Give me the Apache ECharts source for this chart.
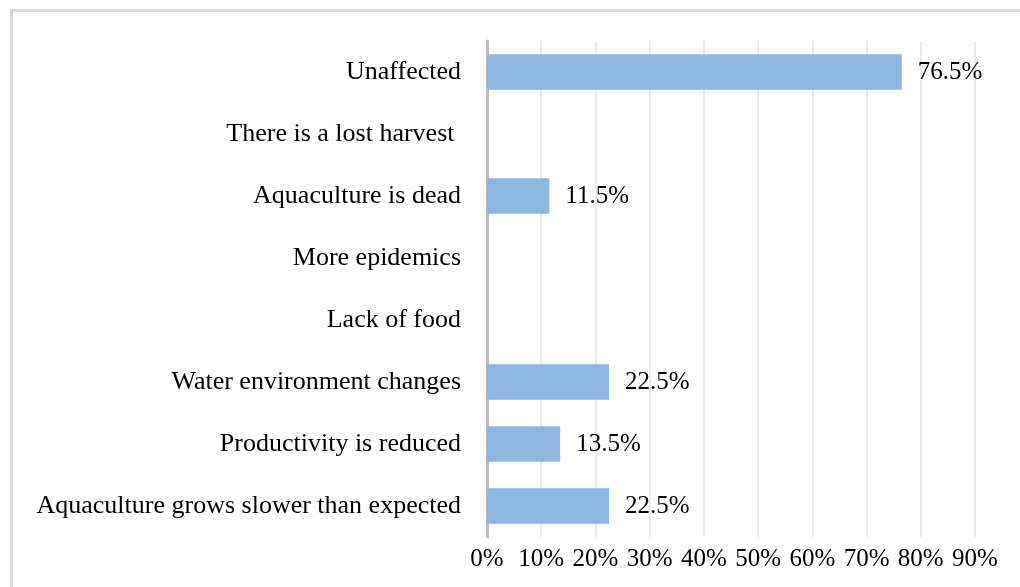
<!DOCTYPE html>
<html>
<head>
<meta charset="utf-8">
<script src="https://cdn.jsdelivr.net/npm/echarts@6/dist/echarts.min.js"></script>
<style>
  html, body { margin: 0; padding: 0; background: #fff; }
  #chart { width: 1020px; height: 587px; }
</style>
</head>
<body>
<div id="chart"></div>
<script>
// Impacts on aquaculture, share of respondents (%)
const categories = [
  'Unaffected',
  'There is a lost harvest ',
  'Aquaculture is dead',
  'More epidemics',
  'Lack of food',
  'Water environment changes',
  'Productivity is reduced',
  'Aquaculture grows slower than expected'
];
const shares = [76.5, 0, 11.5, 0, 0, 22.5, 13.5, 22.5];
const xTicks = [0, 10, 20, 30, 40, 50, 60, 70, 80, 90];

const font = '"Liberation Serif", "Times New Roman", serif';
const chart = echarts.init(document.getElementById('chart'), null, { renderer: 'canvas' });

chart.setOption({
  animation: false,
  backgroundColor: '#ffffff',
  graphic: [
    { type: 'line', shape: { x1: 10, y1: 10.5, x2: 1020, y2: 10.5 }, style: { stroke: '#dadada', lineWidth: 3 } },
    { type: 'line', shape: { x1: 11.5, y1: 9, x2: 11.5, y2: 587 }, style: { stroke: '#dadada', lineWidth: 3 } }
  ],
  grid: { left: 487, right: 45, top: 41, bottom: 50, containLabel: false },
  xAxis: {
    type: 'value',
    min: xTicks[0],
    max: xTicks[xTicks.length - 1],
    interval: 10,
    axisLine: { show: false },
    axisTick: { show: false },
    splitLine: { show: true, lineStyle: { color: '#ebebeb', width: 2 } },
    axisLabel: {
      formatter: v => v + '%',
      color: '#000',
      fontFamily: font,
      fontSize: 25,
      margin: 10
    }
  },
  yAxis: {
    type: 'category',
    inverse: true,
    data: categories,
    axisLine: { show: true, lineStyle: { color: '#bdbdbd', width: 3 } },
    axisTick: { show: false },
    axisLabel: {
      color: '#000',
      fontFamily: font,
      fontSize: 26,
      margin: 26
    }
  },
  series: [{
    type: 'bar',
    data: shares,
    barWidth: '57%',
    itemStyle: { color: '#8cb7e1' },
    label: {
      show: true,
      position: 'right',
      distance: 16,
      color: '#000',
      fontFamily: font,
      fontSize: 25,
      formatter: p => p.value > 0 ? p.value.toFixed(1) + '%' : ''
    }
  }]
});
</script>
</body>
</html>
